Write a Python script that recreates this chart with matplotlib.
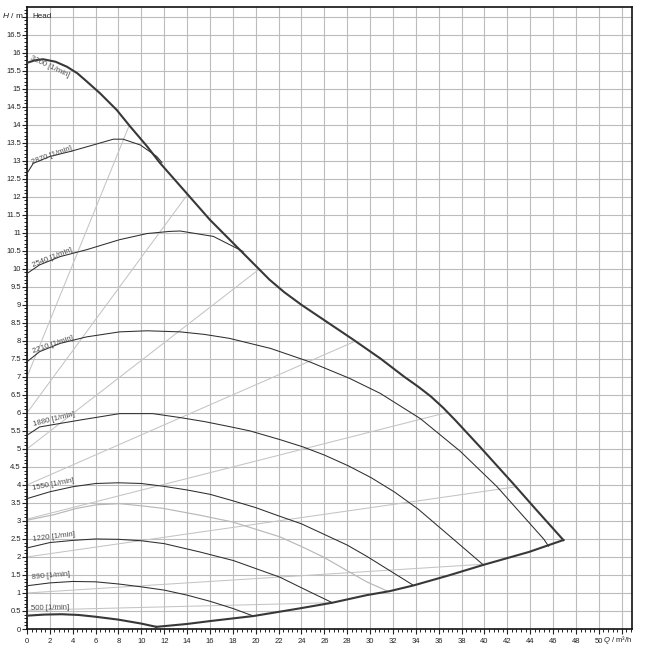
import matplotlib
matplotlib.use("Agg")
import matplotlib.pyplot as plt
from matplotlib.ticker import MultipleLocator, FuncFormatter

plt.rcParams['font.family'] = ['Liberation Sans', 'DejaVu Sans']
plt.rcParams['mathtext.fontset'] = 'custom'
plt.rcParams['mathtext.rm'] = 'Liberation Sans'
plt.rcParams['mathtext.it'] = 'Liberation Sans:italic'

# max curve (3200 rpm + power limit)
q_max = [0, 0.7, 1.4, 2.5, 3.5, 4.4, 5.2, 6.4, 7.85, 9.0, 10.5, 11.6, 13.4, 16.0, 18.6, 20.2,
         21.2, 22.5, 24.0, 25.5, 28.5, 30.9, 33.0, 34.2, 35.3, 36.4, 37.5, 39.6, 42.5, 44.5,
         46.9]
h_max = [15.72, 15.79, 15.82, 15.75, 15.61, 15.43, 15.21, 14.87, 14.41, 13.96, 13.4, 12.95,
         12.3, 11.36, 10.53, 10.02, 9.7, 9.35, 9.0, 8.68, 8.04, 7.51, 7.0, 6.73, 6.46, 6.14,
         5.78, 5.06, 4.04, 3.32, 2.47]

# lower limit curve
q_min = [11.3, 12, 14, 16, 19.8, 23.8, 26.7, 29.7, 31.7, 33.8, 36.9, 39.9, 43.9, 46.9]
h_min = [0.06, 0.08, 0.14, 0.22, 0.36, 0.57, 0.73, 0.94, 1.05, 1.21, 1.49, 1.78, 2.14, 2.47]

# 500 rpm
q_500 = [0, 1.5, 3, 4.5, 6, 8, 10, 11.3]
h_500 = [0.37, 0.4, 0.41, 0.39, 0.34, 0.26, 0.15, 0.06]

# speed curves
q_890 = [0, 2, 4, 6, 8, 10, 12, 14, 16, 18, 19.8]
h_890 = [1.2, 1.28, 1.32, 1.31, 1.25, 1.17, 1.08, 0.94, 0.77, 0.57, 0.36]

q_1220 = [0, 2, 4, 6, 8, 10, 12, 15.1, 18.05, 22.1, 24.8, 26.7]
h_1220 = [2.25, 2.4, 2.46, 2.5, 2.49, 2.45, 2.37, 2.14, 1.9, 1.44, 1.02, 0.73]

q_1550 = [0, 2, 4, 6, 8, 10, 12, 14, 16, 18, 20, 22.1, 24.0, 25.9, 28.0, 29.7, 33.8]
h_1550 = [3.62, 3.81, 3.95, 4.04, 4.06, 4.04, 3.96, 3.86, 3.74, 3.56, 3.37, 3.13, 2.92,
          2.64, 2.33, 2.02, 1.21]

q_1880 = [0, 1.1, 4.6, 8.1, 11.0, 13.4, 15.5, 17.7, 19.5, 22.1, 24.1, 26.0, 28.1, 30.1,
          32.15, 34.2, 37.0, 39.9]
h_1880 = [5.38, 5.61, 5.8, 5.98, 5.98, 5.87, 5.76, 5.62, 5.5, 5.26, 5.06, 4.83, 4.53, 4.2,
          3.8, 3.33, 2.57, 1.78]

q_2210 = [0, 1.1, 2.9, 5.2, 8.1, 10.5, 13.4, 15.5, 17.7, 21.3, 24.7, 28.2, 30.9, 34.4,
          37.9, 41.1, 45.2, 45.6]
h_2210 = [7.42, 7.7, 7.93, 8.11, 8.25, 8.28, 8.25, 8.18, 8.07, 7.79, 7.42, 6.96, 6.54, 5.84,
          4.93, 3.95, 2.49, 2.3]

q_2540 = [0, 1.1, 2.9, 5.2, 8.1, 10.5, 12.5, 13.4, 16.3, 18.9]
h_2540 = [9.87, 10.11, 10.34, 10.53, 10.81, 10.98, 11.04, 11.05, 10.9, 10.48]

q_2870 = [0, 0.55, 2.0, 3.8, 5.8, 7.55, 8.4, 9.9, 11.35, 11.8]
h_2870 = [12.65, 12.93, 13.12, 13.26, 13.44, 13.6, 13.6, 13.44, 13.12, 12.95]

# light grey curve
q_grey = [0, 2.3, 4.35, 6.1, 8.1, 10, 11.9, 15.1, 18, 19.5, 22.1, 24, 25.9, 29.7, 31.6]
h_grey = [3.02, 3.17, 3.35, 3.45, 3.48, 3.42, 3.35, 3.16, 2.97, 2.82, 2.56, 2.29, 2.0, 1.31, 1.04]

# straight control lines: start head and end point
line_h0 = [7.0, 6.0, 5.0, 4.0, 3.05, 2.0, 1.0, 0.52]
line_q1 = [8.9, 14.0, 20.3, 28.7, 36.6, 42.8, 40.0, 26.7]
line_h1 = [13.95, 12.05, 9.99, 7.99, 6.0, 3.95, 1.8, 0.73]

speed_labels = ['3200 [1/min]', '2870 [1/min]', '2540 [1/min]', '2210 [1/min]',
                '1880 [1/min]', '1550 [1/min]', '1220 [1/min]', '890 [1/min]', '500 [1/min]']
label_q = [0.2, 0.55, 0.61, 0.61, 0.61, 0.55, 0.55, 0.4, 0.35]
label_h = [15.78, 12.86, 9.99, 7.6, 5.59, 3.81, 2.4, 1.32, 0.47]
label_rot = [-25, 20, 22, 19, 14, 11, 7, 5, 1.5]

fig = plt.figure(figsize=(6.51, 6.57), dpi=100)
ax = fig.add_axes([27 / 651, 28 / 657, 605 / 651, 622 / 657])

light = '#c4c4c4'
dark = '#2e2e2e'
for h0, q1, h1 in zip(line_h0, line_q1, line_h1):
    ax.plot([0, q1], [h0, h1], color=light, lw=0.75, zorder=2)
ax.plot(q_grey, h_grey, color='#b8b8b8', lw=0.85, zorder=2)

for q, h in [(q_890, h_890), (q_1220, h_1220), (q_1550, h_1550), (q_1880, h_1880),
             (q_2210, h_2210), (q_2540, h_2540), (q_2870, h_2870)]:
    ax.plot(q, h, color=dark, lw=0.75, zorder=3)

for q, h in [(q_max, h_max), (q_min, h_min), (q_500, h_500)]:
    ax.plot(q, h, color='#383838', lw=1.5, zorder=4, solid_joinstyle='round')

for txt, x, y, r in zip(speed_labels, label_q, label_h, label_rot):
    ax.text(x, y, txt, fontsize=5.6, color='#4a4a4a', rotation=r,
            rotation_mode='anchor', ha='left', va='bottom', zorder=5)

ax.set_xlim(0, 52.9)
ax.set_ylim(0, 17.27)
ax.xaxis.set_major_locator(MultipleLocator(2))
ax.xaxis.set_minor_locator(MultipleLocator(0.4))
ax.yaxis.set_major_locator(MultipleLocator(0.5))
ax.yaxis.set_minor_locator(MultipleLocator(0.1))
ax.xaxis.set_major_formatter(FuncFormatter(lambda v, p: '' if v > 51 else '%g' % v))
ax.yaxis.set_major_formatter(FuncFormatter(lambda v, p: '' if v > 16.9 else '%g' % v))
ax.tick_params(which='major', length=3.6, width=0.8, labelsize=5.5, colors='#222222')
ax.tick_params(which='minor', length=2.2, width=0.7, colors='#222222')
ax.tick_params(axis='y', which='major', pad=0.8)
ax.tick_params(axis='x', which='major', pad=3)
ax.grid(True, which='major', color='#bcbcbc', lw=0.8)
ax.set_axisbelow(True)
for s in ax.spines.values():
    s.set_linewidth(1.2)
    s.set_color('#111111')

ax.text(0.45, 17.0, 'Head', fontsize=5.8, color='#222222', va='center', ha='left')
fig.text(2 / 651, 1 - 15 / 657, r'$H$ / m', fontsize=6, color='#222222', va='center', ha='left')
fig.text(603 / 651, 1 - 640 / 657, r'$Q$ / m³/h', fontsize=5.5, color='#222222', va='center', ha='left')

fig.savefig('out.png', dpi=100)
